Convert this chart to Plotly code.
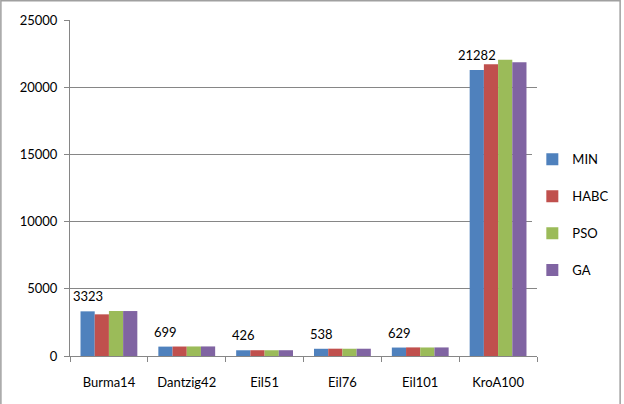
import plotly.graph_objects as go

categories = ["Burma14", "Dantzig42", "Eil51", "Eil76", "Eil101", "KroA100"]
min_vals = [3323, 699, 426, 538, 629, 21282]
habc_vals = [3100, 705, 430, 545, 640, 21700]
pso_vals = [3350, 710, 428, 540, 635, 22050]
ga_vals = [3345, 712, 430, 542, 638, 21850]
series_names = ["MIN", "HABC", "PSO", "GA"]
colors = ["#4F81BD", "#C0504D", "#9BBB59", "#8064A2"]
y_ticks = [0, 5000, 10000, 15000, 20000, 25000]
y_tick_labels = ["0", "5000", "10000", "15000", "20000", "25000"]

FONT = "Lato, Carlito, 'Open Sans', sans-serif"

fig = go.Figure()
for name, vals, col in zip(series_names, [min_vals, habc_vals, pso_vals, ga_vals], colors):
    fig.add_trace(go.Bar(x=categories, y=vals, name=name, marker_color=col,
                         marker_line_width=0, legendgroup=name))

for cat, v in zip(categories, min_vals):
    fig.add_annotation(x=cat, y=v, text=str(v), showarrow=False, xshift=-21,
                       yanchor="bottom", yshift=5, font=dict(family=FONT, size=13, color="#000"))

fig.add_shape(type="rect", xref="paper", yref="paper", x0=-0.148, x1=1.178, y0=-0.2, y1=1.057,
              line=dict(color="#A0A0A0", width=1.5))

fig.update_layout(
    width=624, height=404,
    margin=dict(l=70, r=87, t=20, b=48, autoexpand=False),
    paper_bgcolor="white", plot_bgcolor="white",
    barmode="group", bargap=0.27, bargroupgap=0,
    font=dict(family=FONT, size=13, color="#000"),
    showlegend=True,
    legend=dict(x=0.99, y=0.42, xanchor="left", yanchor="middle",
                tracegroupgap=17, font=dict(size=13), itemwidth=30),
    xaxis=dict(showline=True, linecolor="#868686", linewidth=1, ticks="outside",
               tickson="boundaries", tickcolor="#868686", ticklen=5, showgrid=False,
               tickfont=dict(size=13), ticklabelstandoff=14),
    yaxis=dict(range=[0, 25000], tickvals=y_ticks, ticktext=y_tick_labels, showline=True,
               linecolor="#868686", linewidth=1, ticks="outside", tickcolor="#868686",
               ticklen=5, gridcolor="#868686", gridwidth=1, zeroline=False,
               tickfont=dict(size=13), ticklabelstandoff=4),
)

fig.write_html("out.html")
